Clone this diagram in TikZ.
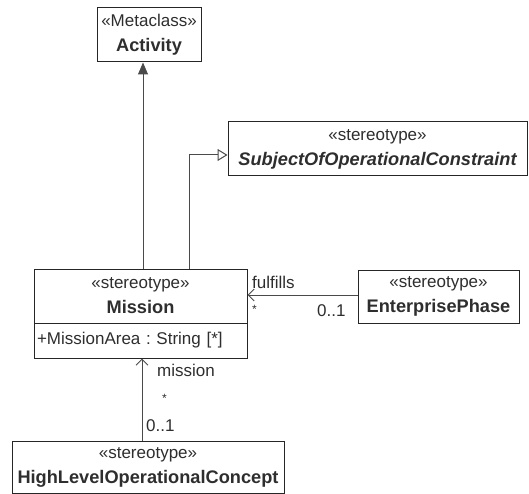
\documentclass[tikz,border=0pt]{standalone}
\usepackage{fontspec}
\setmainfont{Liberation Sans}
\usetikzlibrary{arrows.meta}
\definecolor{txt}{HTML}{2E2E2E}
\definecolor{ln}{HTML}{4A4A4A}
\newcommand{\clsname}[1]{{\fontsize{18.2}{25}\selectfont\bfseries #1}}
\frenchspacing
\begin{document}
\begin{tikzpicture}[x=1pt,y=-1pt,
  cls/.style={draw=black!85,line width=1pt,fill=white,inner sep=0pt,align=center,text=txt,
    font=\fontsize{17}{25}\selectfont},
  lbl/.style={text=txt,inner sep=0pt,font=\fontsize{17}{20}\selectfont},
  conn/.style={draw=ln,line width=1pt},
  ext/.style={conn,-{Triangle[length=12pt,width=10pt]}},
  gen/.style={conn,-{Triangle[open,length=10pt,width=12pt,fill=white]}},
  assoc/.style={conn,-{Straight Barb[length=6pt,width=12pt]}}]
\useasboundingbox (0,0) rectangle (529,494);

\node[cls,minimum width=104pt,minimum height=54pt] (act) at (149,35)
  {«Metaclass»\\\clsname{Activity}};
\node[cls,minimum width=299pt,minimum height=54pt] (subj) at (377.5,149)
  {«stereotype»\\\clsname{\itshape SubjectOfOperationalConstraint}};
\node[cls,minimum width=213pt,minimum height=54pt] (mission) at (140.5,296)
  {«stereotype»\\\clsname{Mission}};
\node[cls,minimum width=213pt,minimum height=35pt,text width=207pt,align=left] (mattr) at (140.5,340.5)
  {\frenchspacing +MissionArea : String [*]};
\node[cls,minimum width=161pt,minimum height=53pt] (ep) at (438.5,296.5)
  {«stereotype»\\\clsname{EnterprisePhase}};
\node[cls,minimum width=272pt,minimum height=52pt] (hloc) at (148,467)
  {«stereotype»\\\clsname{HighLevelOperationalConcept}};

% connectors
\draw[ext] (mission.north -| 143,0) -- (act.south -| 143,0);
\draw[gen] (mission.north -| 189,0) |- (subj.west |- 0,155);
\draw[assoc] (ep.west |- 0,295) -- (mission.east |- 0,295);
\draw[assoc] (hloc.north -| 142,0) -- (mattr.south -| 142,0);

% labels
\node[lbl,anchor=west] (l1) at (252,282) {fulfills};
\node[lbl,anchor=west] (l2) at (252,309) {\fontsize{12}{12}\selectfont *};
\node[lbl,anchor=west] (l3) at (317,311) {0..1};
\node[lbl,anchor=west] (l4) at (157,370) {mission};
\node[lbl,anchor=west] (l5) at (162,398) {\fontsize{12}{12}\selectfont *};
\node[lbl,anchor=west] (l6) at (146,426) {0..1};
\end{tikzpicture}
\end{document}
